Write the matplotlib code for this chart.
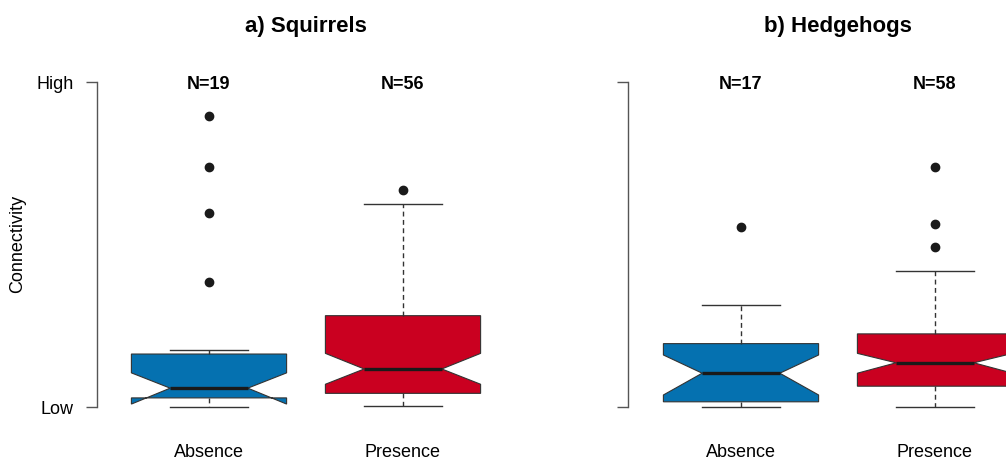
import matplotlib
matplotlib.use("Agg")
import matplotlib.pyplot as plt

plt.rcParams['font.family'] = ['Liberation Sans', 'DejaVu Sans']

# Group labels and sample sizes
groups = ["Absence", "Presence"]
panel_titles = ["a) Squirrels", "b) Hedgehogs"]
sample_sizes = [[19, 56], [17, 58]]

# Five-number summaries (connectivity scaled 0 = Low, 1 = High)
whisker_low = [[0.0, 0.003], [0.0, 0.0]]
q1 = [[0.028, 0.042], [0.016, 0.064]]
median = [[0.058, 0.117], [0.104, 0.136]]
q3 = [[0.163, 0.281], [0.195, 0.225]]
whisker_high = [[0.174, 0.624], [0.314, 0.419]]
notch_low = [[0.009, 0.070], [0.037, 0.104]]
notch_high = [[0.105, 0.165], [0.160, 0.165]]
outliers = [
    [[0.895, 0.738, 0.598, 0.386], [0.668]],
    [[0.555], [0.738, 0.564, 0.491]],
]

colors = ["#0571b0", "#ca0020"]

W, H = 1006, 461
fig = plt.figure(figsize=(W / 100, H / 100), dpi=100)

px_per_unit = 194.0
ax_w = 418.0
ax_top, ax_bot = 69.0, 420.0
lefts_px = [97.0, 628.0]
centers_px = [[209.0, 403.0], [741.0, 935.0]]

for p in range(2):
    left = lefts_px[p]
    ax = fig.add_axes([left / W, (H - ax_bot) / H, ax_w / W, (ax_bot - ax_top) / H])
    x0 = 1 - (centers_px[p][0] - left) / px_per_unit
    ax.set_xlim(x0, x0 + ax_w / px_per_unit)
    ax.set_ylim(-0.04, 1.04)

    stats = []
    for g in range(2):
        stats.append(dict(
            med=median[p][g], q1=q1[p][g], q3=q3[p][g],
            whislo=whisker_low[p][g], whishi=whisker_high[p][g],
            cilo=notch_low[p][g], cihi=notch_high[p][g],
            fliers=outliers[p][g], label=groups[g],
        ))

    bp = ax.bxp(
        stats, positions=[1, 2], widths=0.8, shownotches=True,
        patch_artist=True,
        boxprops=dict(edgecolor="#333333", linewidth=0.8),
        medianprops=dict(color="#1a1a1a", linewidth=2.4, solid_capstyle="butt"),
        whiskerprops=dict(color="#333333", linewidth=1.0, linestyle=(0, (3.5, 2.5))),
        capprops=dict(color="#333333", linewidth=1.0),
        flierprops=dict(marker="o", markersize=6, markerfacecolor="#1a1a1a",
                        markeredgecolor="#1a1a1a", linestyle="none"),
    )
    for patch, c in zip(bp["boxes"], colors):
        patch.set_facecolor(c)
    for artist_list in bp.values():
        for a in artist_list:
            a.set_clip_on(False)

    for s in ["top", "right", "bottom"]:
        ax.spines[s].set_visible(False)
    ax.spines["left"].set_bounds(0, 1)
    ax.spines["left"].set_color("#555555")
    ax.spines["left"].set_linewidth(1.0)

    ax.set_yticks([0, 1])
    if p == 0:
        ax.set_yticklabels(["Low", "High"], fontsize=13)
    else:
        ax.set_yticklabels([])
    ax.tick_params(axis="y", length=8, width=1.0, color="#555555", pad=9)

    ax.set_xticks([1, 2])
    ax.set_xticklabels(groups, fontsize=13)
    ax.tick_params(axis="x", length=0, pad=17)

    for g in range(2):
        ax.annotate(f"N={sample_sizes[p][g]}", xy=(g + 1, 1), xytext=(0, -5),
                    textcoords="offset points", ha="center", va="baseline",
                    fontsize=13, fontweight="bold", annotation_clip=False)

    title_x = (centers_px[p][0] + centers_px[p][1]) / 2
    fig.text(title_x / W, (H - 32) / H, panel_titles[p], ha="center",
             va="baseline", fontsize=16, fontweight="bold")

fig.text(18 / W, (H - 244) / H, "Connectivity", rotation=90, ha="center",
         va="center", fontsize=13)

fig.savefig("out.png", dpi=100)
